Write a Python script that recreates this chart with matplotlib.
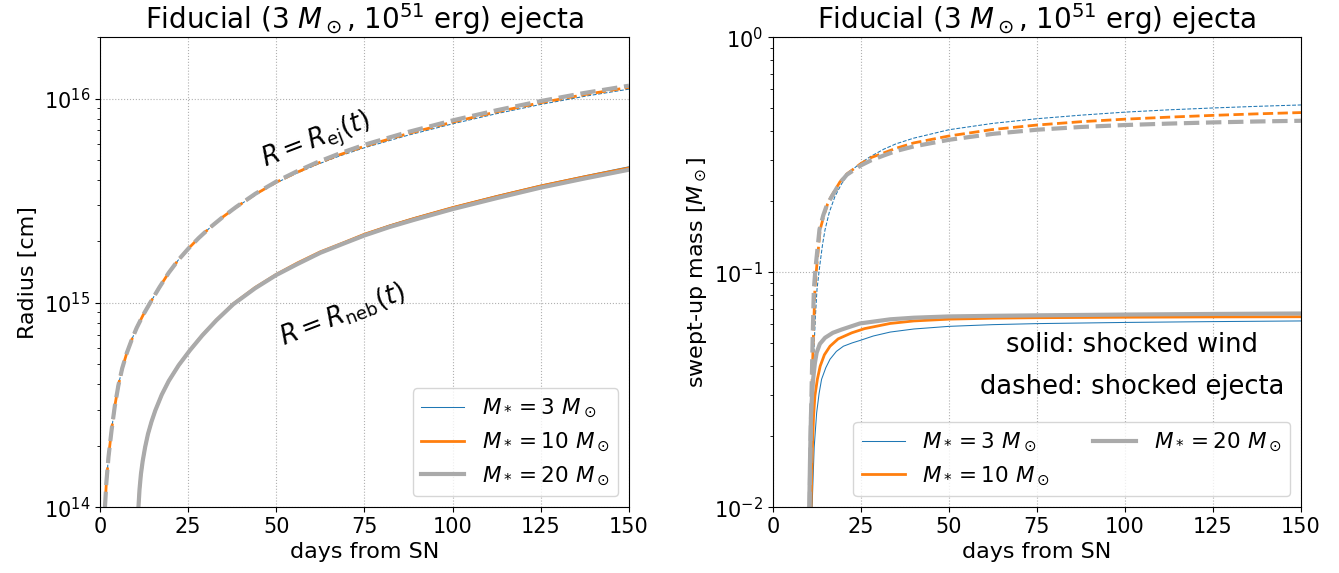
import matplotlib
matplotlib.use('Agg')
import matplotlib.pyplot as plt

# ---- values ----
# left panel: radii in units of 1e15 cm
t_ej = [1.4, 1.8, 2.4, 3.3, 4.2, 5.2, 6.3, 7.6, 9.0, 10.4, 12.2, 14.2, 16.8, 19.5,
        22.2, 25, 28, 31.4, 35, 38.6, 44, 50, 55.5, 61.3, 68, 75, 87.5, 100,
        112.5, 125, 137.5, 150]
rej_3 = [0.100, 0.132, 0.176, 0.240, 0.313, 0.394, 0.479, 0.569, 0.661, 0.755, 0.871,
         1.000, 1.189, 1.406, 1.622, 1.841, 2.080, 2.355, 2.649, 2.938, 3.388, 3.873,
         4.295, 4.742, 5.248, 5.754, 6.637, 7.534, 8.453, 9.376, 10.28, 11.14]
rej_10 = [0.100, 0.132, 0.176, 0.240, 0.313, 0.394, 0.479, 0.569, 0.661, 0.755, 0.871,
          1.000, 1.189, 1.406, 1.622, 1.841, 2.080, 2.355, 2.649, 2.940, 3.400, 3.900,
          4.330, 4.800, 5.320, 5.850, 6.760, 7.680, 8.620, 9.560, 10.48, 11.36]
rej_20 = [0.100, 0.132, 0.176, 0.240, 0.313, 0.394, 0.479, 0.569, 0.661, 0.755, 0.871,
          1.000, 1.189, 1.406, 1.622, 1.841, 2.080, 2.355, 2.649, 2.950, 3.420, 3.930,
          4.380, 4.860, 5.400, 5.950, 6.880, 7.830, 8.780, 9.740, 10.68, 11.58]

t_neb = [10.9, 11.2, 11.6, 12.1, 12.8, 13.6, 14.6, 15.7, 17.5, 19.5, 22.3, 25.5, 29,
         33, 37.8, 44, 50, 56, 62.5, 69, 75, 82, 89, 100, 112.5, 125, 137.5, 150]
rneb_3 = [0.100, 0.122, 0.145, 0.168, 0.197, 0.228, 0.262, 0.298, 0.355, 0.415, 0.495,
          0.587, 0.695, 0.825, 0.990, 1.19, 1.38, 1.57, 1.78, 1.98, 2.18, 2.40, 2.61,
          2.95, 3.35, 3.77, 4.19, 4.64]
rneb_10 = [0.100, 0.122, 0.145, 0.168, 0.197, 0.228, 0.262, 0.298, 0.355, 0.415, 0.495,
           0.587, 0.695, 0.825, 0.990, 1.19, 1.38, 1.57, 1.78, 1.97, 2.17, 2.38, 2.59,
           2.93, 3.32, 3.74, 4.15, 4.58]
rneb_20 = [0.100, 0.122, 0.145, 0.168, 0.197, 0.228, 0.262, 0.298, 0.355, 0.415, 0.495,
           0.586, 0.693, 0.822, 0.985, 1.18, 1.37, 1.55, 1.76, 1.95, 2.14, 2.35, 2.55,
           2.88, 3.26, 3.67, 4.07, 4.49]

# right panel: swept-up mass in solar masses
t_sej_3 = [10.6, 10.9, 11.2, 11.6, 12.0, 12.5, 13.1, 13.4, 14.1, 14.8, 16.0, 17.6, 19.5,
           21.9, 24.7, 27.6, 31.5, 35, 40, 50, 62.5, 75, 87.5, 100, 112.5, 125, 137.5, 150]
sej_3 = [0.010, 0.018, 0.028, 0.045, 0.063, 0.0845, 0.101, 0.110, 0.132, 0.152, 0.180,
         0.210, 0.238, 0.268, 0.290, 0.310, 0.334, 0.352, 0.372, 0.404, 0.430, 0.450,
         0.466, 0.480, 0.491, 0.500, 0.508, 0.515]
t_sej_10 = [10.5, 10.8, 11.1, 11.5, 11.9, 12.4, 13.4, 14.5, 15.5, 16.7, 19, 21, 25, 28,
            31.5, 35, 40, 50, 62.5, 75, 87.5, 100, 112.5, 125, 137.5, 150]
sej_10 = [0.010, 0.020, 0.034, 0.055, 0.0845, 0.105, 0.152, 0.175, 0.195, 0.212, 0.242,
          0.262, 0.290, 0.308, 0.322, 0.337, 0.355, 0.380, 0.405, 0.423, 0.437, 0.448,
          0.457, 0.465, 0.472, 0.478]
t_sej_20 = [10.4, 10.7, 11.0, 11.3, 11.6, 12.1, 13.2, 14.3, 15.3, 16.7, 19, 21, 25, 28,
            31.5, 35, 40, 50, 62.5, 75, 87.5, 100, 112.5, 125, 137.5, 150]
sej_20 = [0.010, 0.020, 0.034, 0.055, 0.0845, 0.105, 0.152, 0.175, 0.193, 0.210, 0.240,
          0.260, 0.285, 0.300, 0.314, 0.328, 0.343, 0.366, 0.388, 0.404, 0.415, 0.423,
          0.429, 0.434, 0.438, 0.441]

t_sw_3 = [11.1, 11.4, 11.7, 12.4, 13.1, 13.8, 15.0, 16.2, 18.0, 20.0, 22.5, 24.7, 28.5,
          33.3, 40, 50, 62.5, 75, 100, 125, 150]
sw_3 = [0.010, 0.0135, 0.018, 0.0252, 0.0305, 0.035, 0.0392, 0.0426, 0.0460, 0.0484,
        0.0500, 0.0512, 0.0535, 0.0556, 0.0573, 0.0588, 0.0598, 0.0604, 0.0611, 0.0616,
        0.0620]
t_sw_10 = [10.8, 11.0, 11.2, 11.5, 11.9, 12.6, 13.4, 14.6, 16.2, 18.5, 22.4, 26, 33.3,
           40, 50, 62.5, 75, 100, 125, 150]
sw_10 = [0.010, 0.0135, 0.018, 0.024, 0.0297, 0.035, 0.0398, 0.0445, 0.0484, 0.052,
         0.0552, 0.0575, 0.0605, 0.062, 0.0631, 0.0637, 0.064, 0.0643, 0.0645, 0.0646]
t_sw_20 = [10.3, 10.5, 10.8, 11.1, 11.4, 11.9, 12.4, 13.3, 14.8, 17, 19.5, 24.7, 33.3,
           40, 50, 62.5, 75, 100, 125, 150]
sw_20 = [0.010, 0.0155, 0.0252, 0.030, 0.035, 0.041, 0.0454, 0.0495, 0.0526, 0.0552,
         0.057, 0.0605, 0.063, 0.064, 0.0648, 0.0652, 0.0655, 0.066, 0.0664, 0.0667]

labels = [r'$M_* = 3\ M_\odot$', r'$M_* = 10\ M_\odot$', r'$M_* = 20\ M_\odot$']
colors = ['#1f77b4', '#ff7f0e', '#aaaaaa']
widths = [0.75, 2.0, 3.0]
title = r'Fiducial (3 $M_\odot$, $10^{51}$ erg) ejecta'
days = [0, 25, 50, 75, 100, 125, 150]

plt.rcParams['font.size'] = 15
plt.rcParams['grid.linestyle'] = ':'

fig = plt.figure(figsize=(13.39, 5.73), dpi=100)
ax1 = fig.add_axes([0.0747, 0.115, 0.395, 0.82])
ax2 = fig.add_axes([0.5773, 0.115, 0.3943, 0.82])

# left: radii
ej = [rej_3, rej_10, rej_20]
neb = [rneb_3, rneb_10, rneb_20]
for i in range(3):
    ax1.plot(t_ej, [r * 1e15 for r in ej[i]], '--', color=colors[i], lw=widths[i])
    ax1.plot(t_neb, [r * 1e15 for r in neb[i]], '-', color=colors[i], lw=widths[i],
             label=labels[i])
ax1.set_yscale('log')
ax1.set_xlim(0, 150)
ax1.set_ylim(1e14, 2e16)
ax1.set_xticks(days)
ax1.grid(True)
ax1.set_xlabel('days from SN', fontsize=16)
ax1.set_ylabel('Radius [cm]', fontsize=16)
ax1.set_title(title, fontsize=20)
ax1.legend(loc='lower right', fontsize=15.5)
ax1.text(61.4, 6.2e15, r'$R = R_{\rm ej}(t)$', fontsize=18.5, rotation=21,
         ha='center', va='center')
ax1.text(68.7, 8.7e14, r'$R = R_{\rm neb}(t)$', fontsize=18.5, rotation=21,
         ha='center', va='center')

# right: swept-up mass
sej = [(t_sej_3, sej_3), (t_sej_10, sej_10), (t_sej_20, sej_20)]
sw = [(t_sw_3, sw_3), (t_sw_10, sw_10), (t_sw_20, sw_20)]
for i in range(3):
    ax2.plot(sej[i][0], sej[i][1], '--', color=colors[i], lw=widths[i])
    ax2.plot(sw[i][0], sw[i][1], '-', color=colors[i], lw=widths[i], label=labels[i])
ax2.set_yscale('log')
ax2.set_xlim(0, 150)
ax2.set_ylim(1e-2, 1)
ax2.set_xticks(days)
ax2.grid(True)
ax2.set_xlabel('days from SN', fontsize=16)
ax2.set_ylabel(r'swept-up mass [$M_\odot$]', fontsize=16)
ax2.set_title(title, fontsize=20)
ax2.legend(loc='lower right', fontsize=15.5, ncol=2)
ax2.text(0.68, 0.344, 'solid: shocked wind', fontsize=18.5, ha='center', va='center',
         transform=ax2.transAxes)
ax2.text(0.68, 0.256, 'dashed: shocked ejecta', fontsize=18.5, ha='center', va='center',
         transform=ax2.transAxes)

plt.savefig('out.png', dpi=100)
